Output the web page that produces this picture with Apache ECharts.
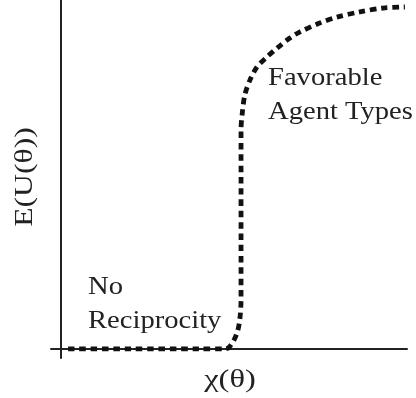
<!DOCTYPE html>
<html>
<head>
<meta charset="utf-8">
<script src="https://cdn.jsdelivr.net/npm/echarts@6/dist/echarts.min.js"></script>
<style>html,body{margin:0;padding:0;background:#fff;}#c{width:416px;height:398px;}</style>
</head>
<body>
<div id="c"></div>
<script>
// curve: x = χ(θ) (normalized), y = E(U(θ)) (normalized)
const curveX = [0.022, 0.20, 0.40, 0.475, 0.486, 0.501, 0.512, 0.518, 0.521, 0.521, 0.521, 0.521, 0.524, 0.532, 0.547, 0.567, 0.596, 0.625, 0.662, 0.690, 0.748, 0.798, 0.864, 0.931, 0.994];
const curveY = [0.0, 0.0, 0.0, 0.0, 0.004, 0.026, 0.054, 0.089, 0.140, 0.300, 0.450, 0.628, 0.670, 0.728, 0.771, 0.808, 0.837, 0.862, 0.891, 0.908, 0.934, 0.951, 0.966, 0.977, 0.980];
const xLabel = 'χ(θ)';
const yLabel = 'E(U(θ))';
const notes = [
  {lines: ['No', 'Reciprocity'], x: 88, y: 297},
  {lines: ['Favorable', 'Agent Types'], x: 268, y: 88}
];

const chart = echarts.init(document.getElementById('c'), null, {renderer: 'canvas'});
const font = '"Liberation Serif", "Times New Roman", serif';
const graphics = [];
notes.forEach(n => {
  n.lines.forEach((t, i) => {
    graphics.push({type: 'text', x: n.x, y: n.y - 23 + i * 34, scaleX: 1.1,
      style: {text: t, font: '26px ' + font, fill: '#222', align: 'left', verticalAlign: 'top'}});
  });
});
graphics.push({type: 'text', x: 230, y: 380, scaleX: 1.25,
  style: {text: xLabel, font: '26px ' + font, fill: '#222', align: 'center', verticalAlign: 'middle'}});
graphics.push({type: 'text', x: 25, y: 177, rotation: Math.PI / 2, scaleX: 1.22,
  style: {text: yLabel, font: '26px ' + font, fill: '#222', align: 'center', verticalAlign: 'middle'}});

chart.setOption({
  animation: false,
  grid: {left: 51, right: 9, top: 0, bottom: 40},
  xAxis: {type: 'value', min: -0.0274, max: 1, axisLine: {onZero: true, lineStyle: {color: '#222', width: 2}},
    axisTick: {show: false}, axisLabel: {show: false}, splitLine: {show: false}},
  yAxis: {type: 'value', min: -0.026, max: 1, axisLine: {show: true, onZero: true, lineStyle: {color: '#222', width: 2}},
    axisTick: {show: false}, axisLabel: {show: false}, splitLine: {show: false}},
  series: [{type: 'line', data: curveX.map((x, i) => [x, curveY[i]]), showSymbol: false, smooth: 0.3,
    lineStyle: {color: '#111', width: 4.8, type: [6.5, 4.8], cap: 'butt'}}],
  graphic: graphics
});
</script>
</body>
</html>
